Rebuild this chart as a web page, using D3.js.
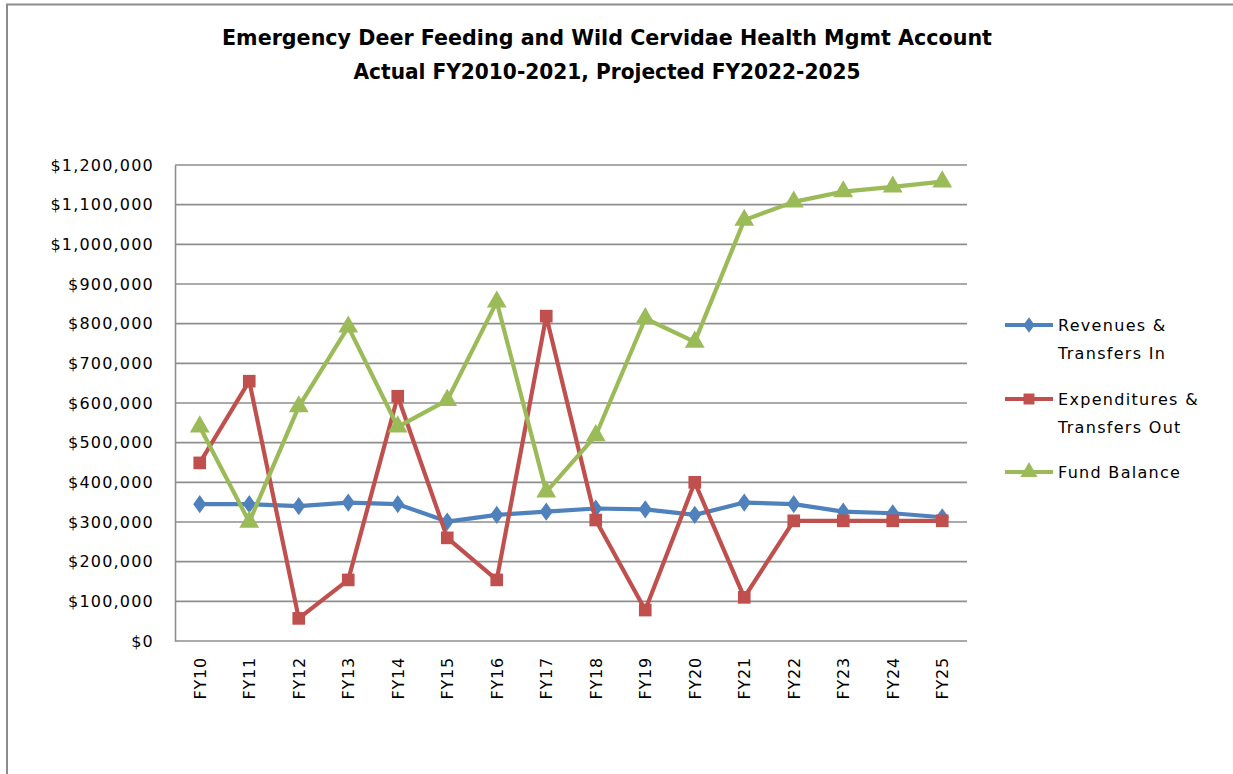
<!DOCTYPE html>
<html>
<head>
<meta charset="utf-8">
<script src="https://cdn.jsdelivr.net/npm/d3@7"></script>
<style>
  body { margin: 0; background: #fff; }
  text { font-family: "DejaVu Sans", Verdana, sans-serif; }
</style>
</head>
<body>
<svg width="1233" height="774"></svg>
<script>
// chart data
var years = ["FY10","FY11","FY12","FY13","FY14","FY15","FY16","FY17",
             "FY18","FY19","FY20","FY21","FY22","FY23","FY24","FY25"];
var revenues = [345000,345000,340000,349000,345000,301000,318000,326000,
                334000,332000,318000,349000,345000,326000,322000,312000];
var expenditures = [449000,655000,57000,154000,617000,260000,154000,819000,
                    305000,78000,400000,110000,303000,303000,303000,303000];
var fundBalance = [540000,300000,591000,792000,540000,607000,855000,376000,
                   518000,813000,754000,1061000,1107000,1133000,1145000,1158000];
var yTicks = [0,100000,200000,300000,400000,500000,600000,700000,800000,
              900000,1000000,1100000,1200000];
var seriesNames = [["Revenues &", "Transfers In"], ["Expenditures &", "Transfers Out"], ["Fund Balance"]];

var svg = d3.select("svg");

// outer chart border (left + top)
svg.append("path")
    .attr("d", "M7,774 L7,4.5 L1233,4.5")
    .attr("fill", "none")
    .attr("stroke", "#8c8c8c")
    .attr("stroke-width", 2);

// title
svg.append("text")
    .attr("x", 607).attr("y", 45)
    .attr("text-anchor", "middle")
    .attr("font-size", 21).attr("font-weight", "bold")
    .attr("textLength", 770).attr("lengthAdjust", "spacingAndGlyphs")
    .text("Emergency Deer Feeding and Wild Cervidae Health Mgmt Account");
svg.append("text")
    .attr("x", 607).attr("y", 79)
    .attr("text-anchor", "middle")
    .attr("font-size", 21).attr("font-weight", "bold")
    .attr("textLength", 507).attr("lengthAdjust", "spacingAndGlyphs")
    .text("Actual FY2010-2021, Projected FY2022-2025");

var plotLeft = 175, plotRight = 967, plotTop = 165, plotBottom = 641;

var x = d3.scalePoint().domain(years).range([plotLeft, plotRight]).padding(0.5);
var y = d3.scaleLinear().domain([0, 1200000]).range([plotBottom, plotTop]);

// gridlines
svg.append("g")
    .selectAll("line")
    .data(yTicks)
    .enter()
    .append("line")
    .attr("x1", plotLeft).attr("x2", plotRight)
    .attr("y1", function(d) { return y(d); })
    .attr("y2", function(d) { return y(d); })
    .attr("stroke", "#8e8e8e")
    .attr("stroke-width", 1.6);

// y axis
var yAxis = svg.append("g")
    .attr("transform", "translate(" + plotLeft + ",0)")
    .call(d3.axisLeft(y).tickValues(yTicks).tickSize(0).tickPadding(21)
        .tickFormat(function(d) { return "$" + d3.format(",")(d); }));
yAxis.select(".domain").attr("stroke", "#8e8e8e").attr("stroke-width", 1.6);
yAxis.selectAll("text")
    .attr("font-size", 16)
    .attr("letter-spacing", 1.2)
    .attr("font-family", "DejaVu Sans")
    .attr("fill", "#000");

// x axis
var xAxis = svg.append("g")
    .attr("transform", "translate(0," + plotBottom + ")")
    .call(d3.axisBottom(x).tickSize(0));
xAxis.select(".domain").remove();
xAxis.selectAll("text")
    .attr("font-size", 16)
    .attr("letter-spacing", 0.8)
    .attr("font-family", "DejaVu Sans")
    .attr("fill", "#000")
    .attr("transform", "rotate(-90)")
    .attr("text-anchor", "end")
    .attr("dy", "0.35em")
    .attr("x", -16)
    .attr("y", 0);

var colors = ["#4f81bd", "#c0504d", "#9bbb59"];
var allSeries = [revenues, expenditures, fundBalance];
var symbols = [d3.symbolDiamond, d3.symbolSquare, d3.symbolTriangle];
var symSizes = [95, 160, 170];

var line = d3.line()
    .x(function(d, i) { return x(years[i]); })
    .y(function(d) { return y(d); });

allSeries.forEach(function(vals, s) {
    var g = svg.append("g");
    g.append("path")
        .datum(vals)
        .attr("d", line)
        .attr("fill", "none")
        .attr("stroke", colors[s])
        .attr("stroke-width", 4.2)
        .attr("stroke-linejoin", "round");
    g.selectAll("path.m")
        .data(vals)
        .enter()
        .append("path")
        .attr("class", "m")
        .attr("d", d3.symbol().type(symbols[s]).size(symSizes[s]))
        .attr("transform", function(d, i) {
            var dx = x(years[i]), dy = y(d);
            if (s == 0) return "translate(" + dx + "," + dy + ") scale(1.25,1)";
            return "translate(" + dx + "," + dy + ")";
        })
        .attr("fill", colors[s]);
});

// legend
var legY = [325, 399, 472];
var legend = svg.append("g");
seriesNames.forEach(function(lines, s) {
    legend.append("line")
        .attr("x1", 1005).attr("x2", 1053)
        .attr("y1", legY[s]).attr("y2", legY[s])
        .attr("stroke", colors[s]).attr("stroke-width", 4.2);
    legend.append("path")
        .attr("d", d3.symbol().type(symbols[s]).size(symSizes[s] * 0.75))
        .attr("transform", "translate(1029," + legY[s] + ")" + (s == 0 ? " scale(1.25,1)" : ""))
        .attr("fill", colors[s]);
    lines.forEach(function(t, k) {
        legend.append("text")
            .attr("x", 1058)
            .attr("y", legY[s] + k * 28)
            .attr("dy", "0.35em")
            .attr("font-size", 16)
            .attr("letter-spacing", 1.3)
            .attr("fill", "#000")
            .text(t);
    });
});
</script>
</body>
</html>
